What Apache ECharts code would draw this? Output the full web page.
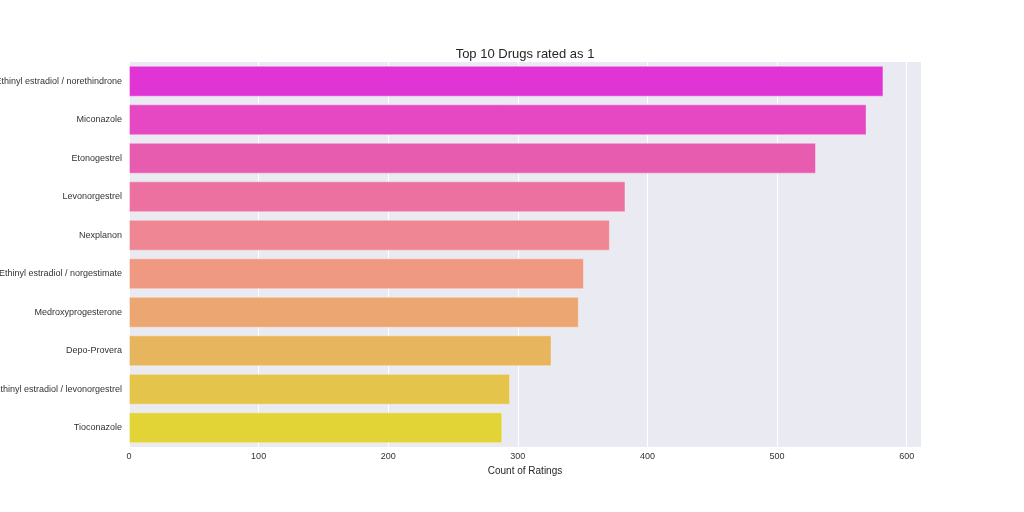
<!DOCTYPE html>
<html><head><meta charset="utf-8">
<script src="https://cdn.jsdelivr.net/npm/echarts@6/dist/echarts.min.js"></script>
<style>html,body{margin:0;padding:0;background:#fff}#c{width:1024px;height:512px}</style>
</head><body><div id="c"></div>
<script>
const categories = ["Ethinyl estradiol / norethindrone","Miconazole","Etonogestrel","Levonorgestrel","Nexplanon","Ethinyl estradiol / norgestimate","Medroxyprogesterone","Depo-Provera","Ethinyl estradiol / levonorgestrel","Tioconazole"];
const counts = [582, 569, 530, 383, 371, 351, 347, 326, 294, 288];
const colors = ["#E034D4","#E548C2","#E85CB0","#EC71A0","#EF8693","#EF9983","#EBA672","#E8B55F","#E5C44B","#E2D337"];
const xTicks = [0,100,200,300,400,500,600];
const chart = echarts.init(document.getElementById('c'));
chart.setOption({
  animation:false,
  backgroundColor:'#fff',
  title:{text:'Top 10 Drugs rated as 1',left:520,top:43,textAlign:'center',textStyle:{fontFamily:'Liberation Sans',fontSize:13,fontWeight:'normal',color:'#262626'}},
  grid:{left:129,right:103,top:62,bottom:65,show:true,backgroundColor:'#EAEAF2',borderWidth:0,containLabel:false,outerBoundsMode:'none'},
  xAxis:{type:'value',min:0,max:611,interval:100,
    name:'Count of Ratings',nameLocation:'middle',nameGap:17,nameTextStyle:{fontFamily:'Liberation Sans',fontSize:10,color:'#262626'},
    axisLine:{show:false},axisTick:{show:false},
    axisLabel:{fontFamily:'Liberation Sans',fontSize:9,color:'#333',margin:5,showMaxLabel:false,formatter:v=>xTicks.includes(v)?String(v):''},
    splitLine:{show:true,lineStyle:{color:'#fff',width:1}}},
  yAxis:{type:'category',data:categories,inverse:true,
    axisLine:{show:false},axisTick:{show:false},
    axisLabel:{fontFamily:'Liberation Sans',fontSize:9,color:'#333',margin:7},
    splitLine:{show:false}},
  series:[{type:'bar',barCategoryGap:'20%',
    data:counts.map((v,i)=>({value:v,itemStyle:{color:colors[i],borderColor:'rgba(255,255,255,0.35)',borderWidth:1}}))}]
});
</script></body></html>
